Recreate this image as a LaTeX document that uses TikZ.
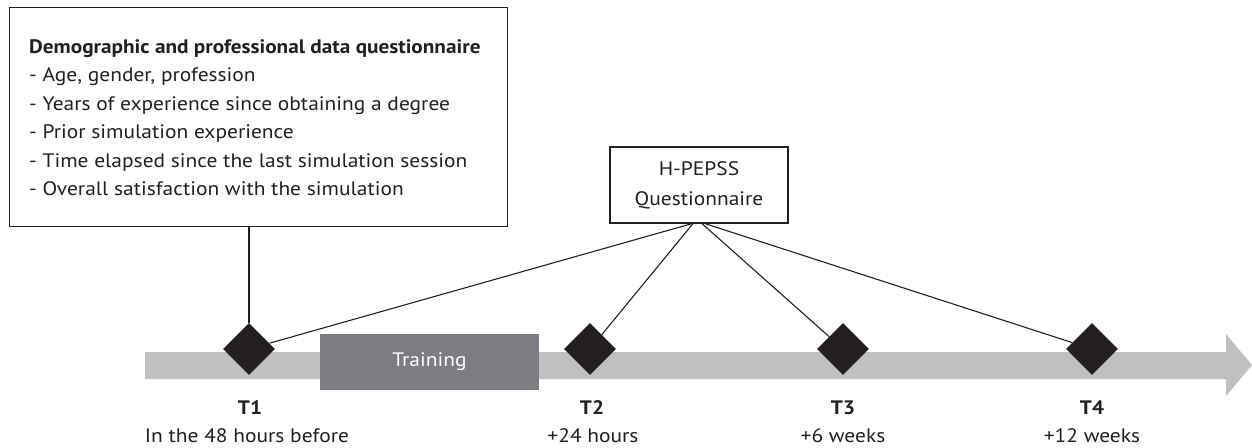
\documentclass[tikz,border=0pt]{standalone}
\usepackage{fontspec}
\setmainfont{PT Sans}[FakeStretch=1.1, BoldFeatures={FakeStretch=1.09}]
\usetikzlibrary{shapes.geometric}
\definecolor{ink}{HTML}{231F20}
\definecolor{bargray}{HTML}{C0C0C0}
\definecolor{traingray}{HTML}{7B7D80}
\begin{document}
\begin{tikzpicture}[x=1pt,y=-1pt,
  every node/.style={text=ink},
  basefont/.style={font=\fontsize{19.5}{23}\selectfont},
  framebox/.style={draw=ink, line width=1.2pt, inner sep=0pt},
  itemtext/.style={basefont, anchor=base west, inner sep=0pt},
  tpoint/.style={diamond, fill=ink, aspect=1, minimum width=52pt, minimum height=52pt, inner sep=0pt},
  tname/.style={font=\fontsize{19.5}{23}\selectfont\bfseries, anchor=base, inner sep=0pt},
  tsub/.style={basefont, anchor=base, inner sep=0pt},
  conn/.style={draw=ink, line width=1.1pt}]
\useasboundingbox (0,0) rectangle (1252,447);

% timeline bar with arrow head
\fill[bargray] (145,352) -- (1226,352) -- (1226,334) -- (1252,365) -- (1226,396) -- (1226,379) -- (145,379) -- cycle;

% training block
\node[fill=traingray, minimum width=219pt, minimum height=56pt, inner sep=0pt, basefont, text=white] (train) at (429.5,362) {Training};

% demographic box
\node[framebox, anchor=north west, minimum width=498pt, minimum height=219pt] (demo) at (9,7) {};
\node[itemtext, font=\fontsize{19.5}{23}\selectfont\bfseries] (dl0) at (29,53) {Demographic and professional data questionnaire};
\node[itemtext] (dl1) at (29,81.5) {- Age, gender, profession};
\node[itemtext] (dl2) at (29,110) {- Years of experience since obtaining a degree};
\node[itemtext] (dl3) at (29,138.5) {- Prior simulation experience};
\node[itemtext] (dl4) at (29,167) {- Time elapsed since the last simulation session};
\node[itemtext] (dl5) at (29,195.5) {- Overall satisfaction with the simulation};

% H-PEPSS box
\node[framebox, minimum width=178pt, minimum height=76pt, align=center, font=\fontsize{19.5}{30}\selectfont] (hp) at (699,185) {H-PEPSS\\Questionnaire};

% time points
\node[tpoint] (d1) at (249,349) {};
\node[tpoint] (d2) at (590,349) {};
\node[tpoint] (d3) at (843,349) {};
\node[tpoint] (d4) at (1092,349) {};

% connectors
\draw[conn] (demo.south -| d1) -- (d1.north);
\draw[conn] ([xshift=-7pt]hp.south) -- (d1);
\draw[conn] ([xshift=-6pt]hp.south) -- (d2);
\draw[conn] ([xshift=3pt]hp.south) -- (d3);
\draw[conn] ([xshift=6pt]hp.south) -- (d4);

% labels
\node[tname] (l1) at (250,414) {T1};
\node[tsub] (s1) at (247,442) {In the 48 hours before};
\node[tname] (l2) at (592,414) {T2};
\node[tsub] (s2) at (593,442) {+24 hours};
\node[tname] (l3) at (843,414) {T3};
\node[tsub] (s3) at (843,442) {+6 weeks};
\node[tname] (l4) at (1092,414) {T4};
\node[tsub] (s4) at (1092,442) {+12 weeks};
\end{tikzpicture}
\end{document}
